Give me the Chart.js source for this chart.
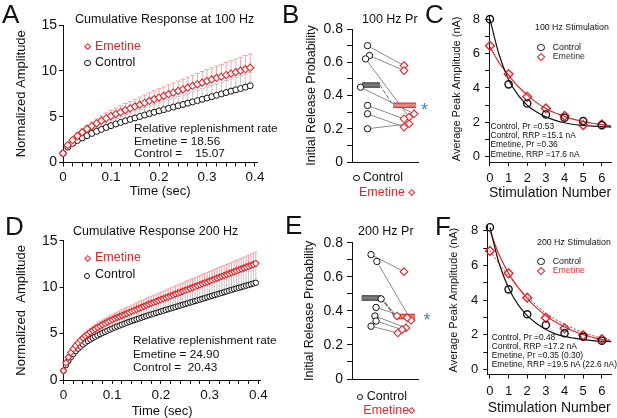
<!DOCTYPE html>
<html lang="en">
<head>
<meta charset="UTF-8">
<title>Emetine and release probability</title>
<script src="https://cdn.jsdelivr.net/npm/chart.js"></script>
<style>
  body { margin: 0; background: #fff; }
  #fig { position: relative; width: 617px; height: 418px; overflow: hidden;
         font-family: Arial, "Liberation Sans", Helvetica, sans-serif; color: #111; }
  #fig canvas { position: absolute; left: 0; top: 0; }
  .t { position: absolute; white-space: pre; line-height: 1; }
  .mk { position: absolute; box-sizing: border-box; }
</style>
</head>
<body>
<div id="fig">
  <canvas id="cA" width="617" height="418"></canvas>
  <canvas id="cB" width="617" height="418"></canvas>
  <canvas id="cC" width="617" height="418"></canvas>
  <canvas id="cD" width="617" height="418"></canvas>
  <canvas id="cE" width="617" height="418"></canvas>
  <canvas id="cF" width="617" height="418"></canvas>
  <div id="txt"></div>
</div>
<script>
// ---- data: cumulative response (A: 100 Hz, D: 200 Hz) ----
const timeA = [0,0.01,0.02,0.03,0.04,0.05,0.06,0.07,0.08,0.09,0.1,0.11,0.12,0.13,0.14,0.15,0.16,0.17,0.18,0.19,
  0.2,0.21,0.22,0.23,0.24,0.25,0.26,0.27,0.28,0.29,0.3,0.31,0.32,0.33,0.34,0.35,0.36,0.37,0.38,0.39];
const ctlA = [1.00,1.68,2.08,2.40,2.68,2.93,3.17,3.40,3.61,3.82,4.02,4.20,4.37,4.54,4.70,4.86,5.02,5.18,5.33,5.48,
  5.63,5.77,5.91,6.05,6.19,6.33,6.47,6.61,6.75,6.89,7.03,7.18,7.33,7.48,7.63,7.78,7.93,8.07,8.22,8.37];
const emeA = [1.00,1.90,2.45,2.90,3.30,3.66,3.98,4.28,4.56,4.82,5.07,5.29,5.50,5.71,5.91,6.11,6.31,6.51,6.71,6.90,
  7.09,7.27,7.45,7.63,7.81,7.99,8.17,8.35,8.53,8.71,8.89,9.06,9.22,9.38,9.54,9.70,9.86,10.02,10.18,10.34];
const ctlSeA = [0,0.13,0.20,0.27,0.32,0.36,0.41,0.45,0.50,0.54,0.58,0.61,0.64,0.68,0.71,0.74,0.77,0.80,0.84,0.87,
  0.90,0.93,0.96,0.99,1.02,1.05,1.08,1.11,1.14,1.17,1.19,1.22,1.25,1.28,1.31,1.34,1.37,1.40,1.43,1.46];
const emeSeA = [0,0.14,0.22,0.29,0.34,0.40,0.44,0.49,0.53,0.57,0.61,0.65,0.68,0.72,0.75,0.79,0.82,0.85,0.88,0.92,
  0.95,0.98,1.01,1.04,1.07,1.10,1.13,1.16,1.19,1.22,1.25,1.28,1.31,1.33,1.36,1.39,1.42,1.45,1.48,1.50];

const timeD = [0,0.005,0.01,0.015,0.02,0.025,0.03,0.035,0.04,0.045,0.05,0.055,0.06,0.065,0.07,0.075,0.08,0.085,0.09,0.095,
  0.1,0.105,0.11,0.115,0.12,0.125,0.13,0.135,0.14,0.145,0.15,0.155,0.16,0.165,0.17,0.175,0.18,0.185,0.19,0.195,
  0.2,0.205,0.21,0.215,0.22,0.225,0.23,0.235,0.24,0.245,0.25,0.255,0.26,0.265,0.27,0.275,0.28,0.285,0.29,0.295,
  0.3,0.305,0.31,0.315,0.32,0.325,0.33,0.335,0.34,0.345,0.35,0.355,0.36,0.365,0.37,0.375,0.38,0.385,0.39,0.395];
const ctlD = [1.00,1.60,2.05,2.45,2.80,3.10,3.37,3.60,3.82,4.02,4.20,4.37,4.52,4.66,4.80,4.93,5.06,5.18,5.30,5.42,
  5.54,5.65,5.76,5.86,5.96,6.06,6.16,6.26,6.35,6.44,6.53,6.62,6.71,6.80,6.89,6.98,7.06,7.14,7.22,7.30,
  7.38,7.46,7.54,7.62,7.70,7.78,7.86,7.94,8.02,8.10,8.18,8.26,8.34,8.42,8.50,8.58,8.66,8.74,8.82,8.90,
  8.98,9.06,9.14,9.22,9.30,9.38,9.46,9.54,9.62,9.70,9.78,9.86,9.93,10.00,10.08,10.16,10.23,10.31,10.39,10.47];
const emeD = [1.00,1.85,2.45,2.95,3.35,3.70,4.00,4.27,4.52,4.75,4.96,5.15,5.33,5.50,5.66,5.81,5.96,6.10,6.24,6.37,
  6.50,6.62,6.73,6.84,6.95,7.06,7.17,7.28,7.39,7.50,7.61,7.72,7.83,7.94,8.05,8.16,8.26,8.36,8.46,8.56,
  8.66,8.76,8.86,8.96,9.06,9.16,9.26,9.36,9.46,9.56,9.66,9.76,9.86,9.96,10.06,10.16,10.26,10.36,10.46,10.56,
  10.66,10.76,10.86,10.96,11.06,11.16,11.26,11.36,11.46,11.56,11.66,11.76,11.86,11.96,12.06,12.16,12.26,12.36,12.46,12.56];
const ctlSeD = [0,0.10,0.19,0.26,0.32,0.38,0.43,0.47,0.51,0.54,0.58,0.61,0.63,0.66,0.68,0.71,0.73,0.75,0.77,0.79,
  0.82,0.84,0.86,0.87,0.89,0.91,0.93,0.95,0.96,0.98,1.00,1.01,1.03,1.04,1.06,1.08,1.09,1.11,1.12,1.13,
  1.15,1.16,1.18,1.19,1.21,1.22,1.24,1.25,1.27,1.28,1.30,1.31,1.32,1.34,1.35,1.37,1.38,1.40,1.41,1.43,
  1.44,1.46,1.47,1.48,1.50,1.51,1.53,1.54,1.56,1.57,1.59,1.60,1.61,1.62,1.64,1.65,1.66,1.68,1.69,1.70];
const emeSeD = [0,0.09,0.15,0.20,0.24,0.27,0.30,0.33,0.35,0.37,0.40,0.41,0.43,0.45,0.46,0.48,0.50,0.51,0.53,0.54,
  0.56,0.57,0.58,0.60,0.61,0.62,0.63,0.65,0.66,0.67,0.68,0.70,0.71,0.72,0.73,0.74,0.76,0.77,0.78,0.79,
  0.80,0.81,0.83,0.84,0.85,0.86,0.87,0.88,0.89,0.90,0.92,0.93,0.94,0.95,0.96,0.97,0.98,0.99,1.00,1.01,
  1.02,1.03,1.04,1.05,1.06,1.07,1.08,1.09,1.10,1.11,1.12,1.13,1.14,1.15,1.16,1.17,1.18,1.19,1.20,1.21];

// ---- data: initial release probability per cell (B: 100 Hz, E: 200 Hz), paired by index ----
const ctlB = [0.70, 0.64, 0.62, 0.45, 0.34, 0.29, 0.20];
const emeB = [0.58, 0.55, 0.27, 0.29, 0.26, 0.21, 0.23];
const ctlJitB = [1.00, 1.05, 0.95, 0.82, 1.00, 1.00, 1.00];
const emeJitB = [1.94, 1.94, 2.07, 2.20, 1.94, 1.94, 2.07];
const ctlE = [0.73, 0.69, 0.47, 0.42, 0.37, 0.34, 0.31];
const emeE = [0.63, 0.345, 0.37, 0.36, 0.30, 0.29, 0.27];
const ctlJitE = [1.09, 1.24, 1.35, 1.22, 1.19, 1.22, 1.09];
const emeJitE = [1.94, 2.12, 1.76, 2.02, 1.99, 1.89, 1.78];

// ---- data: average peak amplitude per stimulus (C: 100 Hz, F: 200 Hz) ----
const stimNum = [0, 1, 2, 3, 4, 5, 6];
const ctlC = [8.00, 4.21, 3.10, 2.46, 2.27, 2.08, 1.84];
const emeC = [6.45, 4.81, 3.49, 2.81, 2.38, 1.84, 1.88];
const ctlF = [8.21, 4.62, 3.18, 2.56, 2.08, 1.88, 1.65];
const emeF = [6.84, 5.55, 4.14, 2.98, 2.37, 1.98, 1.75];
// fitted decay curves
const fitX = [0, 0.5, 1, 1.5, 2, 2.5, 3, 3.5, 4, 4.5, 5, 5.5, 6, 6.5];
const ctlFitC = [8.0, 5.9, 4.5, 3.6, 3.0, 2.6, 2.32, 2.12, 1.98, 1.88, 1.82, 1.78, 1.75, 1.73];
const emeFitC = [6.4, 5.45, 4.75, 4.1, 3.6, 3.15, 2.8, 2.55, 2.35, 2.18, 2.05, 1.95, 1.87, 1.8];
const ctlFitF = [8.2, 6.1, 4.7, 3.75, 3.1, 2.65, 2.3, 2.05, 1.9, 1.8, 1.72, 1.66, 1.62, 1.6];
const emeFitF = [8.0, 6.6, 5.55, 4.75, 4.1, 3.55, 3.1, 2.75, 2.45, 2.2, 2.0, 1.85, 1.72, 1.62];
const emeFitF2 = [6.85, 6.1, 5.4, 4.75, 4.2, 3.7, 3.25, 2.9, 2.6, 2.35, 2.12, 1.95, 1.8, 1.68];

// ---- styling ----
const FONT = 'Arial, "Liberation Sans", Helvetica, sans-serif';
const INK = '#111';
const RED = '#e3262b';
const PINK = '#f4a3a6';
const GREY_ERR = '#c4c4c4';
const PAIR = '#8c8c8c';
const W = 617, H = 418;
Chart.defaults.font.family = FONT;

const pts = (xs, ys) => xs.map((x, i) => ({ x: x, y: ys[i] }));
const mean = a => a.reduce((s, v) => s + v, 0) / a.length;

// one-sided (upper) error bars drawn under the markers
const errorBars = {
  id: 'errorBars',
  beforeDatasetsDraw(chart) {
    const { ctx, scales: { x, y } } = chart;
    chart.data.datasets.slice().reverse().forEach(ds => {
      if (!ds.errUp) return;
      ctx.save();
      ctx.strokeStyle = ds.errColor;
      ctx.lineWidth = 1;
      ds.data.forEach((p, i) => {
        const px = x.getPixelForValue(p.x);
        const y0 = y.getPixelForValue(p.y);
        const y1 = y.getPixelForValue(p.y + ds.errUp[i]);
        ctx.beginPath();
        ctx.moveTo(px, y0); ctx.lineTo(px, y1);
        ctx.moveTo(px - ds.capW, y1); ctx.lineTo(px + ds.capW, y1);
        ctx.stroke();
      });
      ctx.restore();
    });
  }
};

function axis(o) {
  return {
    type: 'linear', position: o.pos, min: o.min, max: o.max,
    border: { display: true, color: INK, width: 1 },
    grid: { display: !!o.tickLen, drawOnChartArea: false, drawTicks: true, tickLength: o.tickLen || 0, color: INK },
    ticks: { display: !!o.fmt, stepSize: o.step, includeBounds: false, autoSkip: false, maxRotation: 0,
             padding: o.pad || 0, color: INK, font: { size: o.size || 12, family: FONT },
             callback: o.fmt || (() => '') },
    title: { display: !!o.title, text: o.title || '', color: INK, padding: 0,
             font: { size: o.titleSize || 12, family: FONT } }
  };
}

function makePanel(id, area, yW, xH, datasets, xAxis, yAxis, plugins) {
  xAxis.afterFit = s => { s.height = xH; s.paddingLeft = 0; s.paddingRight = 0; };
  yAxis.afterFit = s => { s.width = yW; s.paddingTop = 0; s.paddingBottom = 0; };
  return new Chart(document.getElementById(id), {
    type: 'scatter',
    data: { datasets: datasets },
    options: {
      responsive: false, animation: false, events: [],
      layout: { padding: { left: area.l - yW, top: area.t, right: W - area.r, bottom: H - area.b - xH } },
      plugins: { legend: { display: false }, tooltip: { enabled: false } },
      scales: { x: xAxis, y: yAxis }
    },
    plugins: plugins || []
  });
}

const fmtTime = v => { const r = Math.round(v * 100); return r % 10 === 0 ? String(r / 100) : ''; };
const fmtProb = v => { const r = Math.round(v * 10); return r % 2 === 0 ? (r === 0 ? '0' : (r / 10).toFixed(1)) : ''; };
const fmtEven = v => { const r = Math.round(v); return r % 2 === 0 ? String(r) : ''; };
const fmtInt = v => String(Math.round(v));

// ---- A & D: cumulative response ----
function cumulative(id, area, yW, xH, time, ctl, eme, ctlSe, emeSe, rC, rE, cap, yTitle) {
  return makePanel(id, area, yW, xH, [
    { data: pts(time, eme), errUp: emeSe, errColor: PINK, capW: cap, pointStyle: 'rectRot', pointRadius: rE,
      borderColor: RED, backgroundColor: '#fff', borderWidth: 1.1, clip: false },
    { data: pts(time, ctl), errUp: ctlSe, errColor: GREY_ERR, capW: cap, pointStyle: 'circle', pointRadius: rC,
      borderColor: INK, backgroundColor: '#fff', borderWidth: 1, clip: false }
  ],
  axis({ pos: 'bottom', min: 0, max: 0.405, step: 0.02, tickLen: 4, pad: 3, size: 13.5, fmt: fmtTime,
         title: 'Time (sec)', titleSize: 13 }),
  axis({ pos: 'left', min: 0, max: 15, step: 5, tickLen: 4, pad: 2, size: 14, fmt: fmtInt,
         title: yTitle, titleSize: 13 }),
  [errorBars]);
}
cumulative('cA', { l: 63, r: 257.4, t: 25, b: 162.5 }, 49.1, 36.3, timeA, ctlA, emeA, ctlSeA, emeSeA, 3, 3.6, 2.5,
  'Normalized Amplitude');
cumulative('cD', { l: 63.5, r: 260.7, t: 240.7, b: 380 }, 49.6, 38.8, timeD, ctlD, emeD, ctlSeD, emeSeD, 2.7, 3.2, 1.5,
  'Normalized  Amplitude');

// ---- B & E: paired release probability ----
function paired(id, area, yW, ctl, eme, ctlJit, emeJit, ctlBar, emeBar, dashW) {
  const mC = mean(ctl), mE = mean(eme);
  const sets = [
    { data: pts(ctlJit, ctl), pointStyle: 'circle', pointRadius: 3.2, borderColor: INK,
      backgroundColor: '#fff', borderWidth: 1, clip: false },
    { data: pts(emeJit, eme), pointStyle: 'rectRot', pointRadius: 3.8, borderColor: RED,
      backgroundColor: '#fff', borderWidth: 1.1, clip: false },
    { data: [{ x: ctlBar[0], y: mC }, { x: ctlBar[1], y: mC }], showLine: true, pointRadius: 0,
      borderColor: '#7a7a7a', borderWidth: 3.4, borderCapStyle: 'butt' },
    { data: [{ x: ctlBar[0], y: mC }, { x: ctlBar[1], y: mC }], showLine: true, pointRadius: 0,
      borderColor: '#2a2a2a', borderWidth: 5.4, borderCapStyle: 'butt' },
    { data: [{ x: emeBar[0], y: mE }, { x: emeBar[1], y: mE }], showLine: true, pointRadius: 0,
      borderColor: '#ef8080', borderWidth: 3.4, borderCapStyle: 'butt' },
    { data: [{ x: emeBar[0], y: mE }, { x: emeBar[1], y: mE }], showLine: true, pointRadius: 0,
      borderColor: '#c8282d', borderWidth: 5.4, borderCapStyle: 'butt' },
    { data: [{ x: ctlBar[1], y: mC }, { x: emeBar[0], y: mE }], showLine: true, pointRadius: 0,
      borderColor: '#666', borderWidth: dashW, borderDash: [4, 2] }
  ];
  ctl.forEach((v, i) => sets.push({
    data: [{ x: ctlJit[i], y: v }, { x: emeJit[i], y: eme[i] }], showLine: true, pointRadius: 0,
    borderColor: PAIR, borderWidth: 1
  }));
  return makePanel(id, area, yW, 0, sets,
    axis({ pos: 'bottom', min: 0.6, max: 2.3 }),
    axis({ pos: 'left', min: 0, max: 0.8, step: 0.1, tickLen: 5, pad: 4, size: 14, fmt: fmtProb,
           title: 'Initial Release Probability', titleSize: 12.5 }));
}
paired('cB', { l: 352, r: 418, t: 29, b: 162 }, 47.5, ctlB, emeB, ctlJitB, emeJitB, [0.86, 1.32], [1.66, 2.25], 1);
paired('cE', { l: 352, r: 418, t: 242.7, b: 379 }, 49.5, ctlE, emeE, ctlJitE, emeJitE, [0.85, 1.36], [1.71, 2.22], 1.6);

// ---- C & F: peak amplitude with fits ----
function decay(id, area, yW, xH, xMin, yMax, ctl, eme, fits) {
  const sets = [
    { data: pts(stimNum, ctl), pointStyle: 'circle', pointRadius: 3.6, borderColor: INK,
      backgroundColor: 'rgba(255,255,255,0)', borderWidth: 1.4, clip: false },
    { data: pts(stimNum, eme), pointStyle: 'rectRot', pointRadius: 4.4, borderColor: RED,
      backgroundColor: 'rgba(255,255,255,0)', borderWidth: 1.4, clip: false }
  ].concat(fits.map(f => ({
    data: pts(fitX, f.y), showLine: true, pointRadius: 0, borderColor: f.c, borderWidth: f.w,
    borderDash: f.dash || [], tension: 0.4, cubicInterpolationMode: 'monotone', clip: false
  })));
  return makePanel(id, area, yW, xH, sets,
    axis({ pos: 'bottom', min: xMin, max: 6.5, step: 1, tickLen: 4, pad: 5, size: 13, fmt: fmtInt,
           title: 'Stimulation Number', titleSize: 14 }),
    axis({ pos: 'left', min: -0.3, max: yMax, step: 1, tickLen: 4, pad: 5, size: 13, fmt: fmtEven,
           title: 'Average Peak Amplitude (nA)', titleSize: 11 }));
}
decay('cC', { l: 489, r: 617, t: 15.7, b: 162 }, 38.9, 39.7, -0.05, 8.2, ctlC, emeC, [
  { y: ctlFitC, c: INK, w: 1.2 }, { y: emeFitC, c: RED, w: 1.2 }]);
decay('cF', { l: 487.3, r: 617, t: 225.7, b: 374.5 }, 39.6, 42.2, -0.14, 8.3, ctlF, emeF, [
  { y: ctlFitF, c: INK, w: 1.2 }, { y: emeFitF, c: RED, w: 1.2 }, { y: emeFitF2, c: RED, w: 1, dash: [2, 2] }]);

// ---- text layer: panel letters, titles, legends, notes ----
const txt = document.getElementById('txt');
function label(s, x, base, size, color) {
  const d = document.createElement('div');
  d.className = 't';
  d.textContent = s;
  d.style.left = x + 'px';
  d.style.top = (base - 0.8465 * size) + 'px';
  d.style.fontSize = size + 'px';
  if (color) d.style.color = color;
  txt.appendChild(d);
}
function mark(kind, cx, cy, r, color, bw) {
  const d = document.createElement('div');
  d.className = 'mk';
  const side = kind === 'diamond' ? r * Math.SQRT2 : 2 * r;
  d.style.width = d.style.height = side + 'px';
  d.style.left = (cx - side / 2) + 'px';
  d.style.top = (cy - side / 2) + 'px';
  d.style.border = (bw || 1) + 'px solid ' + color;
  if (kind === 'diamond') d.style.transform = 'rotate(45deg)';
  else d.style.borderRadius = '50%';
  txt.appendChild(d);
}

[['A', 2, 23], ['B', 282, 22.7], ['C', 425, 22.7], ['D', 5, 235.5], ['E', 285, 234.5], ['F', 435, 235]]
  .forEach(([s, x, b]) => label(s, x, b, 26));

label('Cumulative Response at 100 Hz', 75, 24, 12.5);
label('Cumulative Response 200 Hz', 73, 236, 12.5);
label('100 Hz Pr', 362, 23.3, 12.5);
label('200 Hz Pr', 358, 236, 12.5);
label('100 Hz Stimulation', 535, 30, 8.8);
label('200 Hz Stimulation', 537, 245, 8.8);

// A / D legends and replenishment notes
mark('diamond', 87.5, 46.7, 3.8, RED, 1.1); label('Emetine', 95, 51, 12.5, RED);
mark('circle', 87.5, 62.7, 3.2, INK);      label('Control', 95, 66.7, 12.5);
mark('diamond', 87.3, 258.3, 3.8, RED, 1.1); label('Emetine', 95, 262, 12.5, RED);
mark('circle', 87.3, 275.7, 3.2, INK);      label('Control', 95, 279, 12.5);
label('Relative replenishment rate', 134, 132.7, 11.8);
label('Emetine = 18.56', 134, 145.7, 11.8);
label('Control =    15.07', 134, 158.3, 11.8);
label('Relative replenishment rate', 133, 345, 11.8);
label('Emetine = 24.90', 133, 359, 11.8);
label('Control =  20.43', 133, 371.7, 11.8);

// B / E legends and significance stars
mark('circle', 356.5, 177.7, 3.2, INK);  label('Control', 362.7, 181.7, 12.5);
label('Emetine', 359, 196.7, 12.5, RED); mark('diamond', 412, 192.7, 3.8, RED, 1.1);
mark('circle', 360, 396.7, 3.2, INK);    label('Control', 366.7, 401, 12.5);
label('Emetine', 363.3, 414.3, 12.5, RED); mark('diamond', 412, 411, 3.8, RED, 1.1);
label('*', 421, 116.4, 18, '#3f7fc4');
label('*', 423.5, 326.4, 18, '#3f7fc4');

// C / F legends and fit notes
mark('circle', 541, 47.3, 3.6, INK, 1.3);   label('Control', 552.7, 50, 8.8);
mark('diamond', 541, 56.7, 4.4, RED, 1.3);  label('Emetine', 552.7, 59.3, 8.8, '#333');
mark('circle', 541, 261.7, 3.6, INK, 1.3);  label('Control', 552.7, 264.3, 8.8);
mark('diamond', 541, 271, 4.4, RED, 1.3);   label('Emetine', 552.7, 273.6, 8.8, RED);
['Control, Pr =0.53', 'Control, RRP =15.1 nA', 'Emetine, Pr =0.36', 'Emetine, RRP =17.6 nA']
  .forEach((s, i) => label(s, 490.5, 128.7 + i * 9.4, 8.4));
['Control, Pr =0.48', 'Control, RRP =17.2 nA', 'Emetine, Pr =0.35 (0.30)', 'Emetine, RRP =19.5 nA (22.6 nA)']
  .forEach((s, i) => label(s, 491.7, 340 + i * 9.1, 8.4));
</script>
</body>
</html>
